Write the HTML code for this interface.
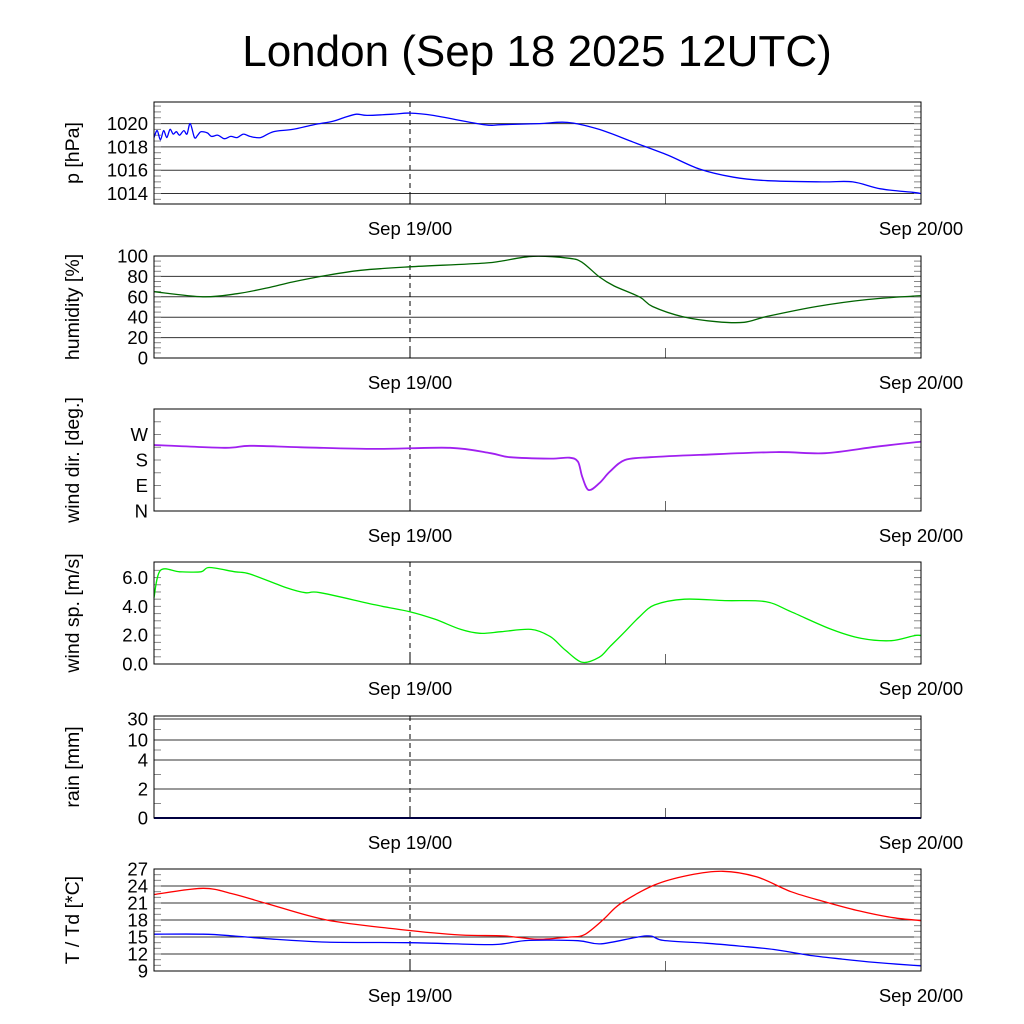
<!DOCTYPE html>
<html><head><meta charset="utf-8"><style>
body{margin:0;background:#fff}
svg{display:block}
text{font-family:"Liberation Sans",sans-serif;fill:#000}
</style></head><body>
<svg id="c" width="1024" height="1024" xmlns="http://www.w3.org/2000/svg">
<text x="537" y="66" font-size="44" text-anchor="middle">London (Sep 18 2025 12UTC)</text>
</svg>
<script>
// Data (hours since Sep 18 12UTC)
const presH=[0,0.15,0.3,0.45,0.6,0.75,0.9,1.05,1.2,1.4,1.55,1.7,1.9,2.05,2.2,2.5,2.7,3,3.3,3.6,3.9,4.2,4.5,5,5.6,6.5,7.5,8.4,8.9,9.5,10,11.2,12,13.1,15.5,16.3,18.1,19.4,20.9,22.5,24.1,25.6,27.2,28.8,31.4,32.8,34.1,35.6,36];
const presV=[1018.8,1019.4,1018.6,1019.4,1018.8,1019.5,1019.1,1019.3,1019.0,1019.4,1019.1,1020.0,1018.8,1019.0,1019.3,1019.2,1018.9,1019.0,1018.7,1018.9,1018.8,1019.1,1018.9,1018.8,1019.3,1019.5,1019.9,1020.2,1020.5,1020.8,1020.7,1020.8,1020.9,1020.7,1019.9,1019.9,1020.0,1020.1,1019.5,1018.4,1017.3,1016.1,1015.4,1015.1,1015.0,1015.0,1014.4,1014.1,1014.0];
const humH=[0,2.3,3.9,5.3,6.5,8.1,9.7,12,15.5,16.3,17.8,19.5,20.1,20.9,21.6,22.8,23.4,24.8,26.4,27.7,28.8,31.1,33.5,35.6,36];
const humV=[65,60,63,68.6,74.5,81,86,89.4,93,95,99.7,97.7,93.7,79.5,70.6,59.7,50.5,40.6,35.6,35,40.9,50.5,57.4,60.7,61];
const dirH=[0,3.3,4.5,6.9,10.4,13.9,15.8,16.7,18.6,19.5,19.9,20.1,20.4,20.9,21.4,22.1,23.3,25.6,29.2,31.5,33.9,36];
const dirV=[233,223,230,225,219,223,204,190,185,188,174,121,74,98,139,180,190,198,208,204,227,245];
const spdH=[0,0.3,1.2,2.2,2.6,3.8,4.5,6.2,7.1,7.8,10.4,12,13.2,14.4,15.3,16.3,17.7,18.6,19.3,20.1,20.9,21.4,22.1,22.8,23.5,24.9,26.8,28.7,29.9,31.8,33.2,34.6,35.7,36];
const spdV=[4.6,6.5,6.4,6.4,6.7,6.4,6.25,5.3,4.95,4.95,4.1,3.63,3.1,2.4,2.13,2.24,2.4,1.9,0.97,0.12,0.47,1.2,2.24,3.3,4.1,4.5,4.4,4.33,3.63,2.4,1.78,1.62,1.97,1.97];
const rainH=[0,36];
const rainV=[0,0];
const tH=[0,2.3,3.7,5.3,8.1,11.6,14.4,16.4,18,19.5,20.2,21.1,21.9,23.5,25.1,26.7,28.3,29.9,31.5,33.1,34.7,36];
const tV=[22.5,23.6,22.6,20.9,18.0,16.3,15.35,15.2,14.6,15.0,15.4,18.1,20.9,24.2,25.9,26.6,25.6,23.0,21.2,19.6,18.4,17.9];
const tdH=[0,2.3,3.7,5.3,8.1,12,15.5,16.4,17.6,19.9,21,23.1,23.9,25.9,27.5,29.1,30.7,32.3,33.9,36];
const tdV=[15.5,15.5,15.2,14.7,14.1,14.0,13.65,13.8,14.4,14.35,13.8,15.2,14.4,13.9,13.4,12.8,11.8,11.1,10.5,9.9];

const svg=document.getElementById('c');
const NS='http://www.w3.org/2000/svg';
const X0=154,X1=921;
const xs=h=>X0+(X1-X0)*h/36;
function el(tag,attrs,parent){const e=document.createElementNS(NS,tag);for(const k in attrs)e.setAttribute(k,attrs[k]);(parent||svg).appendChild(e);return e;}
function smooth(pts){
  let d='M'+pts[0][0].toFixed(1)+','+pts[0][1].toFixed(1);
  for(let i=0;i<pts.length-1;i++){
    const p0=pts[Math.max(0,i-1)],p1=pts[i],p2=pts[i+1],p3=pts[Math.min(pts.length-1,i+2)];
    const t=0.16;
    const c1=[p1[0]+(p2[0]-p0[0])*t,p1[1]+(p2[1]-p0[1])*t];
    const c2=[p2[0]-(p3[0]-p1[0])*t,p2[1]-(p3[1]-p1[1])*t];
    d+='C'+c1.map(v=>v.toFixed(1)).join(',')+' '+c2.map(v=>v.toFixed(1)).join(',')+' '+p2[0].toFixed(1)+','+p2[1].toFixed(1);
  }
  return d;
}

function panel(o){
  const g=el('g',{});
  
  
  const T=o.top,B=o.top+102;
  o.grid.forEach(v=>{const y=o.ys(v);const l=el('line',{x1:X0,x2:X1,y1:y,y2:y,stroke:'#333','stroke-width':1},g);
    
    });
  o.minor.forEach(v=>{const y=o.ys(v);el('line',{x1:X0,x2:X0+7,y1:y,y2:y,stroke:'#888','stroke-width':1},g);el('line',{x1:X1-7,x2:X1,y1:y,y2:y,stroke:'#888','stroke-width':1},g);});
  o.ticks.forEach((v,i)=>{const t=el('text',{x:148,y:o.ys(v)+6.5,'font-size':18.5,'text-anchor':'end'},g);t.textContent=o.labels[i];
    
    });
  el('line',{x1:410,x2:410,y1:T,y2:B,stroke:'#000','stroke-width':1,'stroke-dasharray':'5,4'},g);
  el('line',{x1:410,x2:410,y1:B-12,y2:B,stroke:'#000','stroke-width':1},g);
  el('line',{x1:665.5,x2:665.5,y1:B-10,y2:B,stroke:'#666','stroke-width':1},g);
  o.series.forEach(s=>{const pts=s.h.map((h,i)=>[xs(h),o.ys(s.v[i])]);
    const p=el('path',{d:s.lin?('M'+pts.map(p=>p.join(',')).join('L')):smooth(pts),fill:'none',stroke:s.color,'stroke-width':s.w||1.3,'stroke-linejoin':'round'},g);
    
    });
  el('rect',{x:X0,y:T,width:X1-X0,height:102,fill:'none',stroke:'#000','stroke-width':1},g);
  const cy=T+51;
  const at=el('text',{x:0,y:0,'font-size':19.5,'text-anchor':'middle',transform:`translate(79,${cy}) rotate(-90)`},g);
  at.textContent=o.title;
  
  
  [['Sep 19/00',410],['Sep 20/00',921]].forEach(([s,x])=>{const t=el('text',{x:x,y:B+31,'font-size':18.5,'text-anchor':'middle'},g);t.textContent=s;
    
    });
}
function lin(top,vmin,vmax){return v=>top+102-(v-vmin)/(vmax-vmin)*102;}
function range(a,b,s){const r=[];for(let v=a;v<=b+1e-9;v+=s)r.push(v);return r;}

panel({name:'pressure',top:102,ys:lin(102,1013.1,1021.85),grid:[1014,1016,1018,1020],ticks:[1014,1016,1018,1020],labels:['1014','1016','1018','1020'],minor:range(1013.5,1021.5,0.5),title:'p [hPa]',series:[{h:presH,v:presV,color:'#0000ff',name:'pressure-line'}]});
panel({name:'humidity',top:256,ys:lin(256,0,100),grid:[20,40,60,80],ticks:[0,20,40,60,80,100],labels:['0','20','40','60','80','100'],minor:range(5,95,5),title:'humidity [%]',series:[{h:humH,v:humV,color:'#006400',name:'humidity-line'}]});
panel({name:'wind-direction',top:409,ys:lin(409,0,360),grid:[],ticks:[0,90,180,270],labels:['N','E','S','W'],minor:range(45,315,45),title:'wind dir. [deg.]',series:[{h:dirH,v:dirV,color:'#a020f0',w:1.8,name:'wind-direction-line'}]});
panel({name:'wind-speed',top:562,ys:lin(562,0,7.08),grid:[],ticks:[0,2,4,6],labels:['0.0','2.0','4.0','6.0'],minor:range(0.5,6.5,0.5),title:'wind sp. [m/s]',series:[{h:spdH,v:spdV,color:'#00ee00',name:'wind-speed-line'}]});
const rainMap=[[0,818],[2,789],[4,760],[10,740],[30,719]];
panel({name:'rain',top:716,ys:v=>{for(let i=1;i<rainMap.length;i++){if(v<=rainMap[i][0]){const[a,ya]=rainMap[i-1],[b,yb]=rainMap[i];return ya+(v-a)/(b-a)*(yb-ya);}}return 716;},grid:[2,4,10,30],ticks:[0,2,4,10,30],labels:['0','2','4','10','30'],minor:[1,3,7,20],title:'rain [mm]',series:[{h:rainH,v:rainV,color:'#000080',w:2,lin:true,name:'rain-line'}]});
panel({name:'temperature',top:869,ys:lin(869,9,27),grid:[12,15,18,21,24],ticks:[9,12,15,18,21,24,27],labels:['9','12','15','18','21','24','27'],minor:range(10,26,1),title:'T / Td [*C]',series:[{h:tH,v:tV,color:'#ff0000',name:'temperature-line'},{h:tdH,v:tdV,color:'#0000ff',name:'dewpoint-line'}]});
</script>
</body></html>
